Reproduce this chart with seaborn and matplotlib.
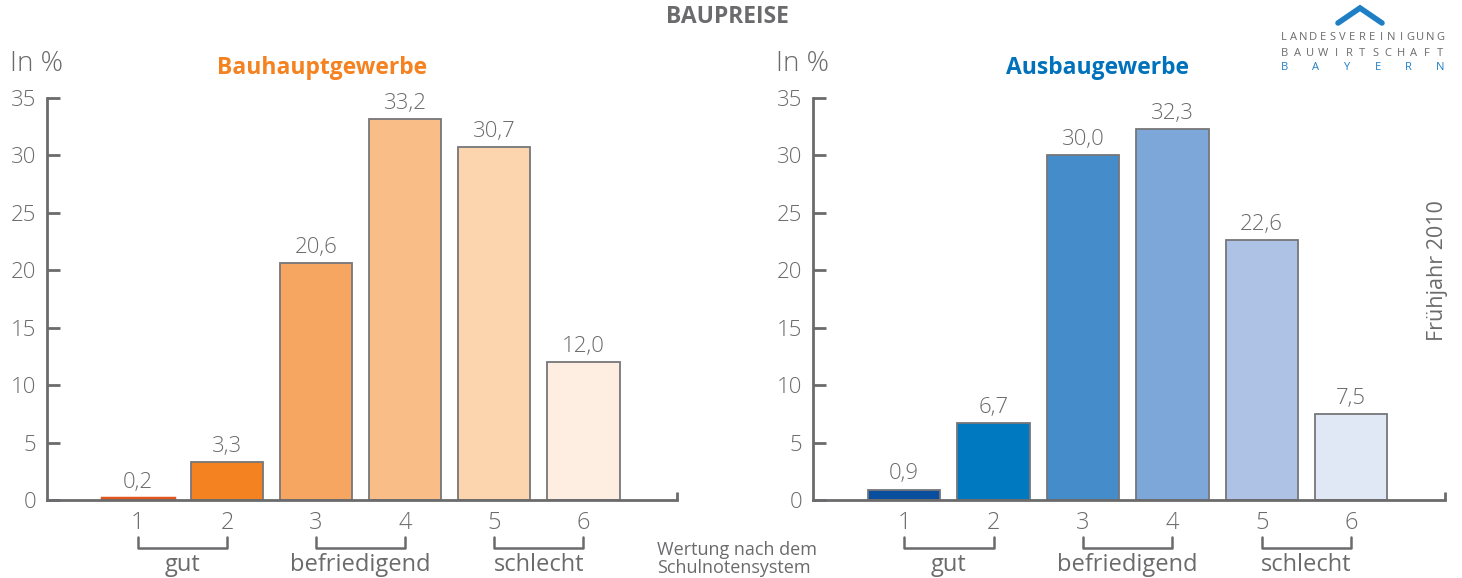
import numpy as np
import pandas as pd
import matplotlib.pyplot as plt
import matplotlib.transforms as mtransforms
import seaborn as sns

# -----------------------------
# Data
# -----------------------------
noten = ["1", "2", "3", "4", "5", "6"]
bauhaupt = [0.2, 3.3, 20.6, 33.2, 30.7, 12.0]
ausbau = [0.9, 6.7, 30.0, 32.3, 22.6, 7.5]
gruppen = ["gut", "befriedigend", "schlecht"]
gruppen_pos = [(0, 1), (2, 3), (4, 5)]

orange = ["#e0561d", "#f58220", "#f6a660", "#f9bd88", "#fcd5af", "#fdeee1"]
blau = ["#0a4f9e", "#0079c1", "#448dca", "#7ca7d8", "#adc2e4", "#e0e7f5"]

GRAU = "#6b6b6d"
EDGE = "#76767a"

sns.set_theme(style="white")
plt.rcParams['font.family'] = ['Open Sans', 'DejaVu Sans']
plt.rcParams['font.weight'] = 'light'
plt.rcParams['text.color'] = GRAU
plt.rcParams['axes.labelcolor'] = GRAU
plt.rcParams['xtick.color'] = GRAU
plt.rcParams['ytick.color'] = GRAU

fig = plt.figure(figsize=(14.62, 5.78), dpi=100)
W, H = 1462, 578


def px_ax(x0, x1, y0, y1):
    return fig.add_axes([x0 / W, 1 - y1 / H, (x1 - x0) / W, (y1 - y0) / H])


def draw_panel(ax, werte, farben, titel, titel_farbe, x_title):
    df = pd.DataFrame({"Note": noten, "Wert": werte})
    sns.barplot(data=df, x="Note", y="Wert", hue="Note", palette=farben,
                edgecolor=EDGE, linewidth=1.3, width=0.81, legend=False,
                saturation=1, ax=ax)
    # very small bars: outline in their own colour (as in the original)
    for patch, v, c in zip(ax.patches, werte, farben):
        if v < 0.5:
            patch.set_edgecolor(c)
            patch.set_linewidth(2.5)
    ax.set_ylim(0, 35)
    ax.set_xlim(-1.02, 6.05)
    ax.set_yticks(range(0, 36, 5))
    ax.tick_params(axis="y", left=True, direction="in", length=9, width=2,
                   color=GRAU, labelsize=16, pad=8)
    ax.set_xticks(range(6))
    ax.set_xticklabels(noten)
    ax.tick_params(axis="x", bottom=False, length=0, labelsize=17, pad=8)
    ax.set_xlabel("")
    ax.set_ylabel("")
    for s in ["top", "right"]:
        ax.spines[s].set_visible(False)
    for s in ["left", "bottom"]:
        ax.spines[s].set_color(GRAU)
        ax.spines[s].set_linewidth(2)
    # end tick of x axis
    ax.plot([1, 1], [0, 0.02], transform=ax.transAxes, color=GRAU, lw=2,
            clip_on=False, solid_capstyle="butt")

    # value labels
    for i, v in enumerate(werte):
        ax.text(i, v + 0.45, f"{v:.1f}".replace(".", ","), ha="center",
                va="bottom", fontsize=16, color=GRAU)

    # brackets + group labels
    trans = mtransforms.blended_transform_factory(ax.transData, ax.transAxes)
    for (a, b), name in zip(gruppen_pos, gruppen):
        ax.plot([a, a, b, b], [-0.092, -0.12, -0.12, -0.092], transform=trans,
                color=GRAU, lw=1.8, clip_on=False)
        ax.text((a + b) / 2, -0.162, name, transform=trans, ha="center",
                va="center", fontsize=17, weight="normal", color=GRAU)

    ax.text(-0.058, 1.085, "In %", transform=ax.transAxes, fontsize=20,
            ha="left", va="center", color=GRAU)
    fig.text(x_title / W, 1 - 68 / H, titel, fontsize=16.5, weight="bold",
             color=titel_farbe, ha="center", va="center")


ax1 = px_ax(47, 677, 98, 500)
draw_panel(ax1, bauhaupt, orange, "Bauhauptgewerbe", "#f58220", 322)

ax2 = px_ax(813, 1445, 98, 500)
draw_panel(ax2, ausbau, blau, "Ausbaugewerbe", "#0072bc", 1097)

# -----------------------------
# Figure texts
# -----------------------------
fig.text(727 / W, 1 - 17 / H, "BAUPREISE", fontsize=16.5, weight="bold",
         color=GRAU, ha="center", va="center")
fig.text(657 / W, 1 - 559 / H, "Wertung nach dem\nSchulnotensystem",
         fontsize=13, weight="normal", color=GRAU, ha="left", va="center",
         linespacing=1.05)
fig.text(1438 / W, 1 - 271 / H, "Frühjahr 2010", fontsize=15.5,
         weight="normal", color=GRAU, rotation=90, ha="center", va="center")

# Logo
fig.add_artist(plt.Line2D([1338 / W, 1360 / W, 1382 / W],
                          [1 - 23 / H, 1 - 8 / H, 1 - 23 / H],
                          color="#1f7fc4", lw=4, solid_joinstyle="miter"))
logo_lines = [("LANDESVEREINIGUNG", 38, GRAU),
              ("BAUWIRTSCHAFT", 53, GRAU),
              ("BAYERN", 68, "#1f7fc4")]
for word, y, col in logo_lines:
    xs = np.linspace(1284, 1440, len(word))
    for ch, x in zip(word, xs):
        fig.text(x / W, 1 - y / H, ch, fontsize=8, weight="normal", color=col,
                 ha="center", va="center")

fig.savefig("out.png", dpi=100)
